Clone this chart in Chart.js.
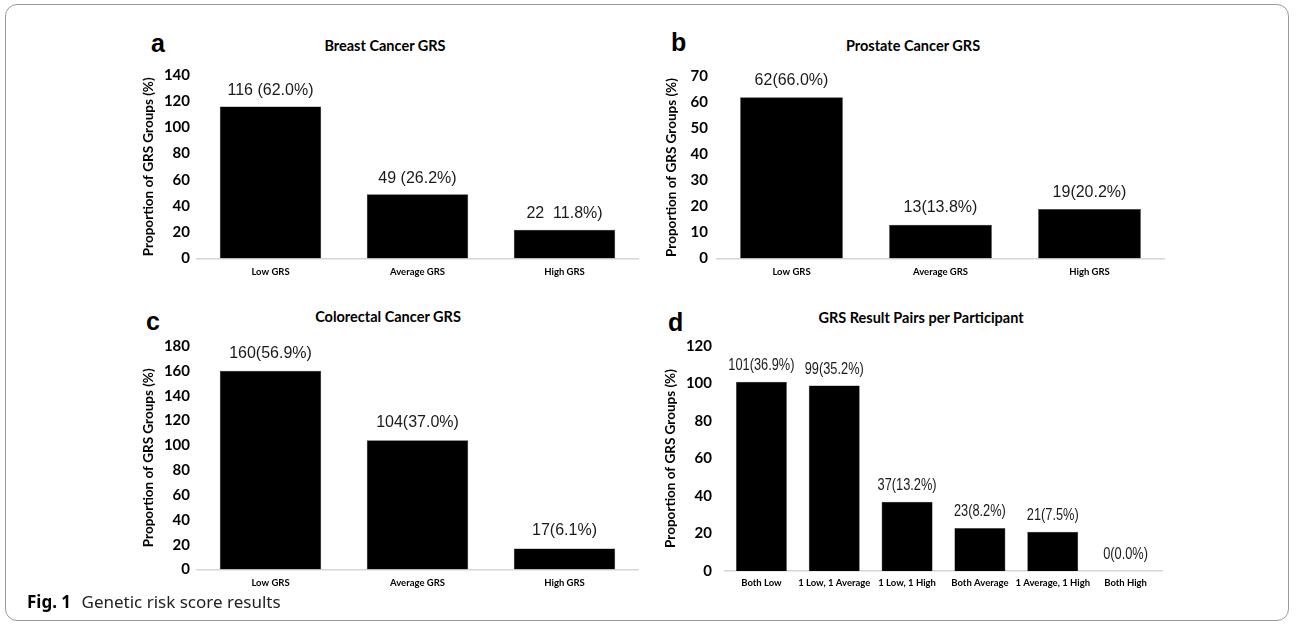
<!DOCTYPE html>
<html>
<head>
<meta charset="utf-8">
<script src="https://cdn.jsdelivr.net/npm/chart.js@4/dist/chart.umd.min.js"></script>
<style>
  html, body { margin: 0; padding: 0; background: #fff; }
  body { width: 1296px; height: 630px; position: relative; overflow: hidden; }
  .frame { position: absolute; left: 5px; top: 4px; width: 1284px; height: 617px;
           border: 1px solid #9a9a9a; border-radius: 12px; box-sizing: border-box; }
  canvas { position: absolute; }
  .letter { position: absolute; font-family: "Liberation Sans", Arial, sans-serif; font-weight: bold;
            font-size: 25px; line-height: 1; color: #000; transform: translateY(-50%); }
  .ptitle { position: absolute; font-family: Lato, sans-serif; font-weight: bold; font-size: 14.5px;
            line-height: 1; color: #000; transform: translate(-50%, -50%); white-space: nowrap; }
  .caption { position: absolute; left: 27px; top: 601px; transform: translateY(-50%);
             font-family: "Noto Sans", sans-serif; font-size: 17px; color: #222; white-space: nowrap; }
  .caption b { color: #000; margin-right: 6px; }
</style>
</head>
<body>
<div class="frame"></div>

<div class="letter" style="left:151px; top:43px;">a</div>
<div class="letter" style="left:671px; top:42px;">b</div>
<div class="letter" style="left:146px; top:321px;">c</div>
<div class="letter" style="left:668px; top:322px;">d</div>

<div class="ptitle" style="left:385px; top:46px;">Breast Cancer GRS</div>
<div class="ptitle" style="left:913px; top:46px;">Prostate Cancer GRS</div>
<div class="ptitle" style="left:388px; top:317px;">Colorectal Cancer GRS</div>
<div class="ptitle" style="left:921px; top:318px;">GRS Result Pairs per Participant</div>

<canvas id="chartA" width="520" height="270" style="left:135px; top:20px;"></canvas>
<canvas id="chartB" width="620" height="270" style="left:655px; top:20px;"></canvas>
<canvas id="chartC" width="520" height="295" style="left:135px; top:300px;"></canvas>
<canvas id="chartD" width="620" height="295" style="left:655px; top:300px;"></canvas>

<div class="caption"><b>Fig. 1</b> Genetic risk score results</div>

<script>
// Categories
const grsLevels = ['Low GRS', 'Average GRS', 'High GRS'];
const pairCategories = ['Both Low', '1 Low, 1 Average', '1 Low, 1 High', 'Both Average', '1 Average, 1 High', 'Both High'];

// Participant counts per group
const breastCounts = [116, 49, 22];
const prostateCounts = [62, 13, 19];
const colorectalCounts = [160, 104, 17];
const pairCounts = [101, 99, 37, 23, 21, 0];

// Share of participants (%) per group
const breastPct = ['62.0', '26.2', '11.8'];
const prostatePct = ['66.0', '13.8', '20.2'];
const colorectalPct = ['56.9', '37.0', '6.1'];
const pairPct = ['36.9', '35.2', '13.2', '8.2', '7.5', '0.0'];

// Text between count and percentage in each label
const breastSep = [' (', ' (', '  '];
const plainSep = ['(', '(', '(', '(', '(', '('];

// Y-axis tick ranges
const breastTicks = { max: 140, step: 20 };
const prostateTicks = { max: 70, step: 10 };
const colorectalTicks = { max: 180, step: 20 };
const pairTicks = { max: 120, step: 20 };

const yTitle = 'Proportion of GRS Groups (%)';

function buildLabels(counts, pct, sep) {
  return counts.map((c, i) => c + sep[i] + pct[i] + '%)');
}

// Draws the count/percentage text above each bar (optionally condensed horizontally)
const valueLabels = {
  id: 'valueLabels',
  afterDatasetsDraw(chart, args, opts) {
    const ctx = chart.ctx;
    const meta = chart.getDatasetMeta(0);
    meta.data.forEach((bar, i) => {
      ctx.save();
      ctx.font = opts.font;
      ctx.fillStyle = opts.color;
      ctx.textAlign = 'center';
      ctx.textBaseline = 'middle';
      ctx.translate(bar.x, bar.y - opts.offset);
      ctx.scale(opts.stretch, 1);
      ctx.fillText(opts.texts[i], 0, 0);
      ctx.restore();
    });
  }
};

function makePanel(cfg) {
  const el = document.getElementById(cfg.id);
  return new Chart(el, {
    type: 'bar',
    data: {
      labels: cfg.labels,
      datasets: [{
        data: cfg.values,
        backgroundColor: '#000',
        borderColor: '#3a3a3a',
        borderWidth: 0.5,
        categoryPercentage: 1,
        barPercentage: cfg.barPct
      }]
    },
    plugins: [valueLabels],
    options: {
      responsive: false,
      animation: false,
      devicePixelRatio: 1,
      layout: { padding: { top: cfg.padTop, right: cfg.padRight, left: 0, bottom: 0 } },
      plugins: {
        legend: { display: false },
        tooltip: { enabled: false },
        title: { display: false },
        valueLabels: { texts: cfg.texts, font: cfg.labelFont, color: '#1a1a1a',
                       offset: cfg.labelOffset, stretch: cfg.labelStretch }
      },
      scales: {
        x: {
          grid: { display: false, drawTicks: false },
          border: { display: true, color: '#d6d6d6', width: 1.5 },
          ticks: {
            color: '#000',
            padding: cfg.xPad,
            maxRotation: 0,
            autoSkip: false,
            font: { family: 'Lato', weight: 'bold', size: cfg.catSize }
          },
          afterFit(scale) { scale.height = cfg.xHeight; }
        },
        y: {
          min: 0,
          max: cfg.ticks.max,
          grid: { display: false, drawTicks: false },
          border: { display: false },
          ticks: {
            stepSize: cfg.ticks.step,
            color: '#000',
            padding: cfg.yPad,
            font: { family: 'Lato', weight: 'bold', size: 15 }
          },
          title: {
            display: true,
            text: yTitle,
            color: '#000',
            padding: { top: cfg.titlePad, bottom: 0 },
            font: { family: 'Lato', weight: 'bold', size: 13.5 }
          },
          afterFit(scale) { scale.width = cfg.yWidth; }
        }
      }
    }
  });
}

const labelFont = '16px "Liberation Sans", Arial, sans-serif';

makePanel({
  id: 'chartA', labels: grsLevels, values: breastCounts,
  texts: buildLabels(breastCounts, breastPct, breastSep),
  ticks: breastTicks, barPct: 0.69,
  padTop: 55, padRight: 17, yWidth: 62, xHeight: 31.5,
  yPad: 7, xPad: 7.5, titlePad: 6, catSize: 9.5,
  labelFont: labelFont, labelOffset: 16, labelStretch: 1
});

makePanel({
  id: 'chartB', labels: grsLevels, values: prostateCounts,
  texts: buildLabels(prostateCounts, prostatePct, plainSep),
  ticks: prostateTicks, barPct: 0.69,
  padTop: 56.5, padRight: 111, yWidth: 62, xHeight: 31.5,
  yPad: 9, xPad: 7.5, titlePad: 9, catSize: 9.5,
  labelFont: labelFont, labelOffset: 17, labelStretch: 1
});

makePanel({
  id: 'chartC', labels: grsLevels, values: colorectalCounts,
  texts: buildLabels(colorectalCounts, colorectalPct, plainSep),
  ticks: colorectalTicks, barPct: 0.69,
  padTop: 46, padRight: 17, yWidth: 62, xHeight: 25.5,
  yPad: 7, xPad: 7.5, titlePad: 6, catSize: 9.5,
  labelFont: labelFont, labelOffset: 17.5, labelStretch: 1
});

makePanel({
  id: 'chartD', labels: pairCategories, values: pairCounts,
  texts: buildLabels(pairCounts, pairPct, plainSep),
  ticks: pairTicks, barPct: 0.70,
  padTop: 46, padRight: 113, yWidth: 70, xHeight: 24,
  yPad: 13, xPad: 6, titlePad: 8, catSize: 9.5,
  labelFont: labelFont, labelOffset: 16, labelStretch: 0.8
});
</script>
</body>
</html>
